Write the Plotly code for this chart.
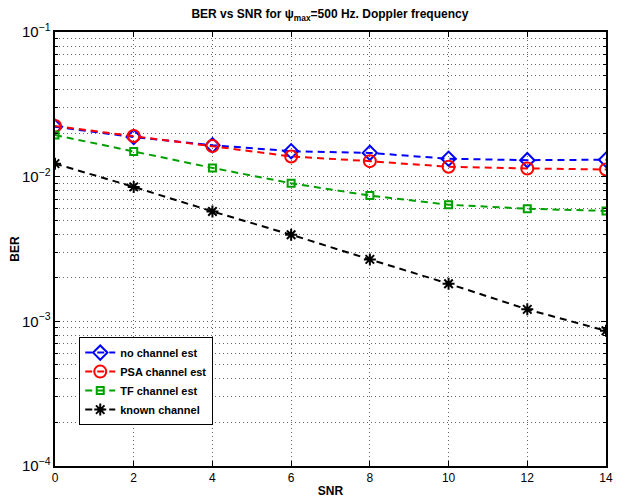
import plotly.graph_objects as go

snr = [0, 2, 4, 6, 8, 10, 12, 14]
ber_no_est = [0.0221, 0.0188, 0.0165, 0.0150, 0.0146, 0.0133, 0.0130, 0.0131]
ber_psa = [0.0224, 0.0191, 0.0163, 0.0138, 0.0128, 0.0117, 0.0114, 0.0112]
ber_tf = [0.0194, 0.0149, 0.0115, 0.0090, 0.0074, 0.0064, 0.0060, 0.0058]
ber_known = [0.0123, 0.0085, 0.00575, 0.00397, 0.00268, 0.00182, 0.00121, 0.00086]

font = "Liberation Sans, Arial, Helvetica, sans-serif"

fig = go.Figure()

series = [
    ("no channel est", ber_no_est, "blue", "diamond-open", 11),
    ("PSA channel est", ber_psa, "red", "circle-open", 12),
    ("TF channel est", ber_tf, "#00a000", "square-open", 7),
    ("known channel", ber_known, "black", "asterisk-open", 10),
]

for name, y, color, symbol, size in series:
    fig.add_trace(go.Scatter(
        x=snr, y=y, name="<b>" + name + "</b>", mode="lines+markers",
        line=dict(color=color, width=2, dash="7px,5px"),
        marker=dict(symbol=symbol, size=size, color=color,
                    line=dict(color=color, width=2)),
    ))

grid = dict(showgrid=True, gridcolor="#666", griddash="1px,3px", gridwidth=1)

# page body adds an 8px offset, margins are set to compensate
fig.update_layout(
    width=625, height=499,
    margin=dict(l=47, r=27, t=24, b=41, autoexpand=False),
    paper_bgcolor="white", plot_bgcolor="white",
    font=dict(family=font, size=12, color="black"),
    title=dict(text="<b>BER vs SNR for \u03c8<sub>max</sub>=500 Hz. Doppler frequency</b>",
               x=0.515, xanchor="center", y=0.988, yanchor="middle",
               font=dict(size=12)),
    legend=dict(x=0.044, y=0.297, xanchor="left", yanchor="top",
                bordercolor="black", borderwidth=1, bgcolor="white",
                font=dict(size=11), tracegroupgap=0, itemwidth=30),
    showlegend=True,
)

fig.update_xaxes(
    range=[0, 14], dtick=2, tick0=0, automargin=False,
    showline=True, linecolor="black", linewidth=2, mirror="ticks",
    ticks="inside", ticklen=5, tickcolor="black",
    zeroline=False, **grid,
    title=dict(text="<b>SNR</b>", standoff=2, font=dict(size=12)),
)

fig.update_yaxes(
    type="log", range=[-4, -1], dtick=1, automargin=False,
    exponentformat="power",
    showline=True, linecolor="black", linewidth=2, mirror="ticks",
    ticks="inside", ticklen=5, tickcolor="black",
    zeroline=False, **grid,
    minor=dict(dtick="D1", ticks="inside", ticklen=3, tickcolor="black", **grid),
    title=dict(text="<b>BER</b>", standoff=0, font=dict(size=12)),
)

fig.write_html("out.html")
